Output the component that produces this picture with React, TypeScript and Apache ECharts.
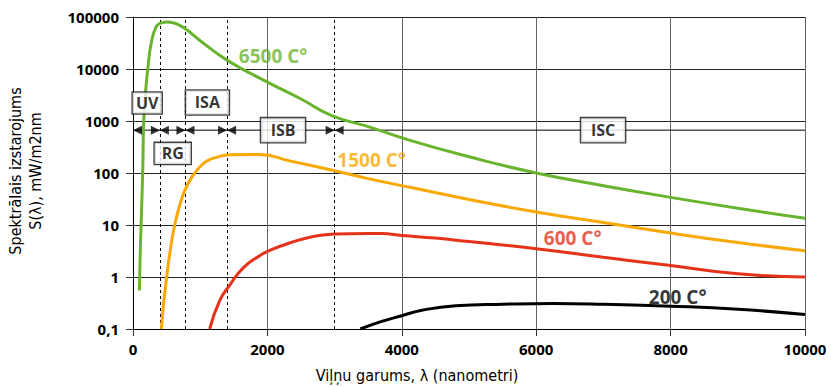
import React, { useEffect, useRef } from "react";
import * as echarts from "echarts";

// ---- data ----
const xTicks = [0, 2000, 4000, 6000, 8000, 10000];
const yTicks = [0.1, 1, 10, 100, 1000, 10000, 100000];
const yTickLabels = ["0,1", "1", "10", "100", "1000", "10000", "100000"];

const seriesNames = ["6500 C°", "1500 C°", "600 C°", "200 C°"];

const curve6500 = [
  [95, 0.55], [108, 3], [120, 10], [144, 100], [160, 1000], [190, 4000], [220, 10000],
  [268, 30000], [342, 64000], [420, 77000], [516, 80000], [600, 77000], [665, 72000],
  [790, 58000], [1000, 35000], [1409, 14500], [2000, 5600], [2500, 2650], [2967, 1250],
  [3500, 780], [4122, 425], [5000, 205], [6000, 100], [7000, 57], [8000, 34],
  [9000, 21], [10000, 13.5],
];
const curve1500 = [
  [422, 0.1], [460, 0.35], [497, 0.9], [550, 3], [620, 10], [700, 25], [770, 46],
  [880, 85], [992, 130], [1100, 170], [1240, 200], [1440, 225], [1885, 228],
  [2330, 171], [2967, 113], [3500, 78], [4122, 53], [5000, 31], [6000, 17.8],
  [7000, 11.2], [8000, 7.0], [9000, 4.6], [10000, 3.2],
];
const curve600 = [
  [1141, 0.1], [1290, 0.35], [1440, 0.7], [1640, 1.5], [1890, 2.6], [2000, 3.1],
  [2330, 4.5], [2700, 6.1], [3000, 6.7], [3500, 6.9], [3700, 6.85], [4000, 6.3],
  [4500, 5.6], [5000, 4.8], [6000, 3.5], [7000, 2.4], [8000, 1.66], [9000, 1.15],
  [10000, 1.0],
];
const curve200 = [
  [3383, 0.1], [3700, 0.14], [4000, 0.18], [4300, 0.23], [4800, 0.28], [5500, 0.3],
  [6250, 0.31], [7000, 0.3], [8000, 0.275], [9000, 0.24], [10000, 0.19],
];

const bandBounds = [0, 400, 780, 1400, 3000, 10000];
const bandNames = ["UV", "RG", "ISA", "ISB", "ISC"];
const arrowLevel = 667;

// ---- annotation placement (data coordinates) ----
const bandLabelPos = [
  [211, 2220], [591, 238], [1107, 2270], [2233, 667], [6995, 667],
];
const bandBoxSize = [
  [29, 21], [36, 21], [43, 24], [44, 24], [44, 24],
];
const seriesLabelPos = [
  [2086, 18000], [3551, 177], [6543, 5.6], [8105, 0.42],
];

const colors = ["#69b42e", "#f8a800", "#e5321a", "#000000"];
const curves = [curve6500, curve1500, curve600, curve200];

const NARROW = "'Liberation Sans Narrow', 'DejaVu Sans Condensed', 'Roboto Condensed', Roboto, sans-serif";
const BOLD = "'Open Sans', 'Noto Sans', Roboto, sans-serif";

export default function App() {
  const ref = useRef<HTMLDivElement>(null);

  useEffect(() => {
    if (!ref.current) return;
    const chart = echarts.init(ref.current, null, { renderer: "svg" });

    const lineSeries = curves.map((c, i) => ({
      type: "line",
      name: seriesNames[i],
      data: c,
      showSymbol: false,
      smooth: 0.5,
      lineStyle: { color: colors[i], width: 3 },
      itemStyle: { color: colors[i] },
      z: 5,
    }));

    const boundaries = bandBounds.slice(0, bandBounds.length - 1);
    const leftArrows = boundaries.map((b) => [b, arrowLevel]);
    const rightArrows = boundaries.slice(1).map((b) => [b, arrowLevel]);

    const option: any = {
      animation: false,
      grid: { left: 133, right: 26, top: 17, bottom: 58, containLabel: false },
      xAxis: {
        type: "value",
        min: xTicks[0],
        max: xTicks[xTicks.length - 1],
        interval: 2000,
        axisLine: { show: true, lineStyle: { color: "#000", width: 1 } },
        axisTick: { show: true, inside: false, length: 7, lineStyle: { color: "#333" } },
        axisLabel: {
          margin: 12,
          color: "#000",
          fontFamily: BOLD,
          fontWeight: "bold",
          fontSize: 15,
          formatter: (v: number) => (xTicks.includes(v) ? String(v) : ""),
        },
        splitLine: { show: true, lineStyle: { color: "#666", width: 1 } },
      },
      yAxis: {
        type: "log",
        logBase: 10,
        min: yTicks[0],
        max: yTicks[yTicks.length - 1],
        splitNumber: 6,
        axisLine: { show: true, lineStyle: { color: "#000", width: 1 } },
        axisTick: { show: true, inside: false, length: 7, lineStyle: { color: "#333" } },
        axisLabel: {
          margin: 14,
          color: "#000",
          fontFamily: BOLD,
          fontWeight: "bold",
          fontSize: 15,
          formatter: (v: number) => {
            const idx = yTicks.findIndex((t) => Math.abs(Math.log10(t) - Math.log10(v)) < 1e-6);
            return idx >= 0 ? yTickLabels[idx] : "";
          },
        },
        splitLine: { show: true, lineStyle: { color: "#222", width: 1 } },
      },
      graphic: [
        {
          type: "text",
          x: 25,
          y: 171,
          rotation: Math.PI / 2,
          style: {
            text: "Spektrālais izstarojums\nS(λ), mW/m2nm",
            fontFamily: NARROW,
            fontSize: 16,
            lineHeight: 20,
            fill: "#000",
            align: "center",
            verticalAlign: "middle",
          },
        },
        {
          type: "text",
          x: 417,
          y: 375,
          style: {
            text: "Viļņu garums, λ (nanometri)",
            fontFamily: NARROW,
            fontSize: 16,
            fill: "#000",
            align: "center",
            verticalAlign: "middle",
          },
        },
      ],
      series: [
        // dashed band boundaries
        {
          type: "line",
          data: [],
          markLine: {
            silent: true,
            symbol: ["none", "none"],
            label: { show: false },
            lineStyle: { color: "#000", type: [3, 3], width: 1 },
            data: bandBounds.slice(1, bandBounds.length - 1).map((b) => ({ xAxis: b })),
          },
          z: 2,
        },
        // arrow line
        {
          type: "line",
          data: [[bandBounds[0], arrowLevel], [bandBounds[bandBounds.length - 1], arrowLevel]],
          showSymbol: false,
          lineStyle: { color: "#000", width: 1 },
          z: 3,
        },
        ...lineSeries,
        // arrow heads pointing left (tip at boundary)
        {
          type: "scatter",
          data: leftArrows,
          symbol: "path://M10,0L0,5L10,10Z",
          symbolSize: [9, 9],
          symbolOffset: [4.5, 0],
          itemStyle: { color: "#000" },
          z: 6,
        },
        // arrow heads pointing right (tip at boundary)
        {
          type: "scatter",
          data: rightArrows,
          symbol: "path://M0,0L10,5L0,10Z",
          symbolSize: [9, 9],
          symbolOffset: [-4.5, 0],
          itemStyle: { color: "#000" },
          z: 6,
        },
        // band boxes
        {
          type: "scatter",
          symbolSize: 0,
          z: 10,
          data: bandNames.map((n, i) => ({
            value: bandLabelPos[i],
            label: {
              show: true,
              position: "inside",
              formatter: n,
              width: bandBoxSize[i][0],
              height: bandBoxSize[i][1],
              lineHeight: bandBoxSize[i][1],
              align: "center",
              verticalAlign: "middle",
              backgroundColor: "#fff",
              borderColor: "#111",
              borderWidth: 1.3,
              color: "#000",
              fontFamily: BOLD,
              fontWeight: "bold",
              fontSize: 16,
              padding: 0,
            },
          })),
        },
        // series labels
        {
          type: "scatter",
          symbolSize: 0,
          z: 10,
          data: seriesNames.map((n, i) => ({
            value: seriesLabelPos[i],
            label: {
              show: true,
              position: "inside",
              formatter: n,
              color: colors[i],
              fontFamily: BOLD,
              fontWeight: "bold",
              fontSize: 19,
            },
          })),
        },
      ],
    };

    chart.setOption(option);
    return () => chart.dispose();
  }, []);

  return (
    <div
      ref={ref}
      style={{ position: "fixed", left: 0, top: 0, width: 831, height: 387, background: "#fff" }}
    />
  );
}
